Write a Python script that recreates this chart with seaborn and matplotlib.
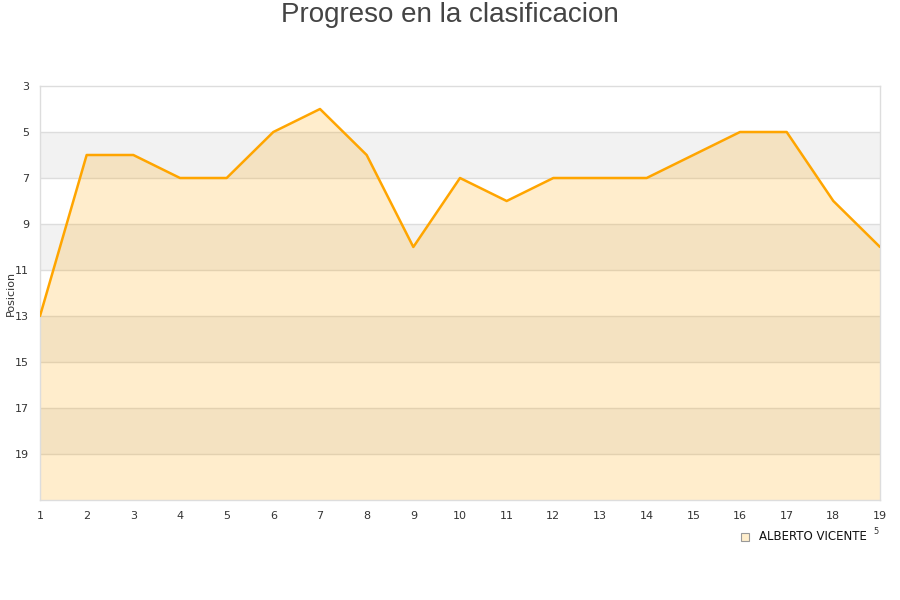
import matplotlib
matplotlib.use("Agg")
import matplotlib.pyplot as plt
import seaborn as sns
import pandas as pd

# datos de la grafica
jornadas = list(range(1, 20))
posiciones = [13, 6, 6, 7, 7, 5, 4, 6, 10, 7, 8, 7, 7, 7, 6, 5, 5, 8, 10]
jugador = "ALBERTO VICENTE"
y_ticks = [3, 5, 7, 9, 11, 13, 15, 17, 19]

df = pd.DataFrame({"jornada": jornadas, "posicion": posiciones})

sns.set_theme(style="white")
plt.rcParams['font.family'] = ['DejaVu Sans']

fig = plt.figure(figsize=(9, 6), dpi=100)
ax = fig.add_axes([40 / 900, 100 / 600, 840 / 900, 414 / 600])

# bandas alternas
for y0 in [5, 9, 13, 17]:
    ax.axhspan(y0, y0 + 2, color="#f2f2f2", zorder=0, lw=0)
for y in y_ticks[1:]:
    ax.axhline(y, color="#dddddd", lw=1, zorder=1)

# area y linea
ax.fill_between(df["jornada"], df["posicion"], 21, color="#ffa500", alpha=0.2, lw=0, zorder=2)
sns.lineplot(data=df, x="jornada", y="posicion", color="#ffa500", lw=1.8, ax=ax, zorder=3)

ax.set_xlim(1, 19)
ax.set_ylim(21, 3)
ax.set_xticks(jornadas)
ax.set_yticks(y_ticks)
ax.tick_params(axis="x", labelsize=8, colors="#333333", length=0, pad=8)
ax.tick_params(axis="y", labelsize=8, colors="#333333", length=0, pad=8)
ax.set_xlabel("")
ax.set_ylabel("Posicion", fontsize=8, color="#333333")
ax.yaxis.set_label_coords(-24 / 840, 0.5)
for s in ax.spines.values():
    s.set_color("#dddddd")
    s.set_linewidth(1)

fig.text(0.5, 1 - 15 / 600, "Progreso en la clasificacion", ha="center", va="center",
         fontsize=20, color="#444444", family=["Liberation Sans", "DejaVu Sans"])

# leyenda
fig.patches.append(plt.Rectangle((741 / 900, 1 - 541 / 600), 8 / 900, 8 / 600, transform=fig.transFigure,
                                 facecolor="#ffeecc", edgecolor="#999999", lw=0.8))
fig.text(759 / 900, 1 - 536 / 600, jugador, ha="left", va="center", fontsize=8.5, color="#111111")
fig.text(873 / 900, 1 - 531 / 600, "5", ha="left", va="center", fontsize=6, color="#333333")

fig.savefig("out.png", dpi=100)
